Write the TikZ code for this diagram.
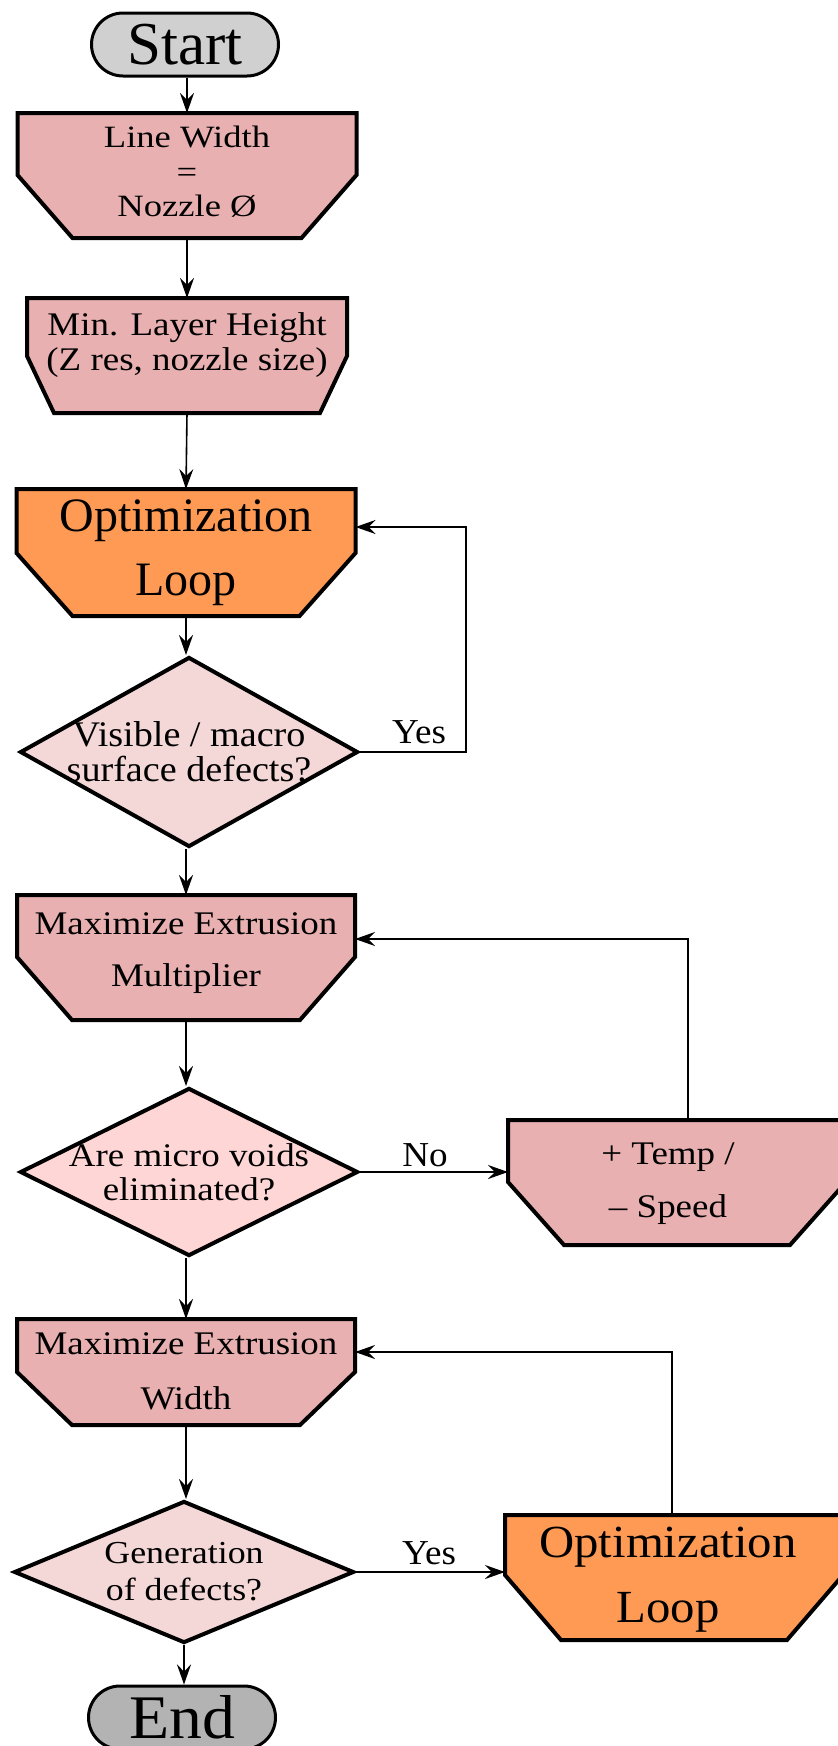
\documentclass[tikz,border=0pt]{standalone}
\usepackage{fontspec}
\setmainfont{Liberation Serif}
\newfontfamily\stA{Liberation Serif}[FakeStretch=1.12]
\newfontfamily\stB{Liberation Serif}[FakeStretch=1.18]
\newfontfamily\stC{Liberation Serif}[FakeStretch=1.06]
\usetikzlibrary{shapes.geometric,shapes.misc,arrows.meta}
\definecolor{boxpink}{HTML}{E8B0B0}
\definecolor{boxorange}{HTML}{FF9A55}
\definecolor{dpink}{HTML}{F4D7D7}
\definecolor{dpinkb}{HTML}{FFD6D6}
\definecolor{startgrey}{HTML}{D0D0D0}
\definecolor{endgrey}{HTML}{B3B3B3}
\tikzset{
  boxline/.style={draw=black, line width=4pt},
  anchorbox/.style={rectangle, draw=none, inner sep=0pt, outer sep=0pt},
  txt/.style={align=center, inner sep=0pt},
  conn/.style={draw=black, line width=1.6pt, -{Stealth[length=20pt,width=14pt,inset=7pt]}},
  term/.style={rounded rectangle, draw=black, line width=3pt, inner sep=0pt,
    minimum width=187pt, minimum height=63pt},
  dec/.style={diamond, draw=black, line width=4pt, inner sep=0pt},
  lab/.style={inner sep=0pt, font=\stC\fontsize{35}{37}\selectfont},
}
\newcommand\chbox[8]{%
  \draw[boxline, fill=#8] ({#2-#4},#3) -- ({#2+#4},#3) -- ({#2+#4},#5) -- ({#2+#4-#7},#6) -- ({#2-#4+#7},#6) -- ({#2-#4},#5) -- cycle;
  \node[anchorbox, minimum width={2*#4pt}, minimum height={(#6-#3)*1pt}] (#1) at (#2,{(#3+#6)/2}) {};
}
\begin{document}
\begin{tikzpicture}[x=1pt,y=-1pt]
\useasboundingbox (0,0) rectangle (838,1746);
% terminals
\node[term, fill=startgrey, font=\fontsize{61}{63}\selectfont] (start) at (185,44.5) {Start};
\node[term, fill=endgrey, font=\stC\fontsize{62}{64}\selectfont] (end) at (182,1717.5) {End};
% process boxes
\chbox{lw}{187}{113}{169.5}{175}{238}{55}{boxpink}
\chbox{minh}{187}{298}{160}{356}{413}{27}{boxpink}
\chbox{opt1}{186}{489}{169.5}{553}{616}{56}{boxorange}
\chbox{mem}{186}{895}{169}{957}{1020}{55}{boxpink}
\chbox{temp}{677}{1120}{169}{1182}{1245}{56}{boxpink}
\chbox{mew}{186}{1319}{169}{1372}{1425}{55}{boxpink}
\chbox{opt2}{674}{1515}{169}{1575}{1640}{56}{boxorange}
% decisions
\node[dec, fill=dpink, minimum width=338pt, minimum height=190pt] (d1) at (189,752) {};
\node[dec, fill=dpinkb, minimum width=338pt, minimum height=168pt] (d2) at (189,1172) {};
\node[dec, fill=dpink, minimum width=340pt, minimum height=142pt] (d3) at (184,1572) {};
% texts
\node[txt, font=\stB\fontsize{31}{34.5}\selectfont] (lwt) at (187,172) {Line Width\\=\\Nozzle Ø};
\node[txt, font=\stA\fontsize{33}{35}\selectfont] (minht) at (187,345) {Min. Layer Height\\(Z res, nozzle size)};
\node[txt, font=\fontsize{48}{64}\selectfont] (opt1t) at (186,553) {Optimization\\Loop};
\node[txt, font=\stC\fontsize{36}{35}\selectfont] (d1t) at (189,752) {Visible / macro\\surface defects?};
\node[txt, font=\stA\fontsize{33}{52}\selectfont] (memt) at (186,953) {Maximize Extrusion\\Multiplier};
\node[txt, font=\stA\fontsize{33}{34}\selectfont] (d2t) at (189,1172) {Are micro voids\\eliminated?};
\node[txt, font=\stA\fontsize{33}{53}\selectfont] (tempt) at (668,1184) {+ Temp /\\– Speed};
\node[txt, font=\stA\fontsize{33}{55}\selectfont] (mewt) at (186,1371) {Maximize Extrusion\\Width};
\node[txt, font=\stA\fontsize{32}{37}\selectfont] (d3t) at (184,1572) {Generation\\of defects?};
\node[txt, font=\stC\fontsize{46}{65}\selectfont] (opt2t) at (668,1580) {Optimization\\Loop};
% main flow
\draw[conn] (start.south -| lw.north) -- (lw.north);
\draw[conn] (lw.south) -- (minh.north);
\draw[conn] (minh.south) -- (opt1.north);
\draw[conn] (opt1.south) -- (opt1.south |- d1.north);
\draw[conn] (d1.south -| mem.north) -- (mem.north);
\draw[conn] (mem.south) -- (mem.south |- d2.north);
\draw[conn] (d2.south -| mew.north) -- (mew.north);
\draw[conn] (mew.south) -- (mew.south |- d3.north);
\draw[conn] (d3.south) -- (d3.south |- end.north);
% loops
\coordinate (lp1) at (466,527);
\draw[conn] (d1.east) -| (lp1) -- (opt1.east |- lp1);
\coordinate (lp2) at (688,939);
\draw[conn] (d2.east) -- (temp.west |- d2.east);
\draw[conn] (temp.north -| lp2) -- (lp2) -- (mem.east |- lp2);
\coordinate (lp3) at (672,1352);
\draw[conn] (d3.east) -- (opt2.west |- d3.east);
\draw[conn] (opt2.north -| lp3) -- (lp3) -- (mew.east |- lp3);
% labels
\node[lab] (yes1) at (419,732) {Yes};
\node[lab] (no1) at (425,1155) {No};
\node[lab] (yes2) at (429,1553) {Yes};
\end{tikzpicture}
\end{document}
